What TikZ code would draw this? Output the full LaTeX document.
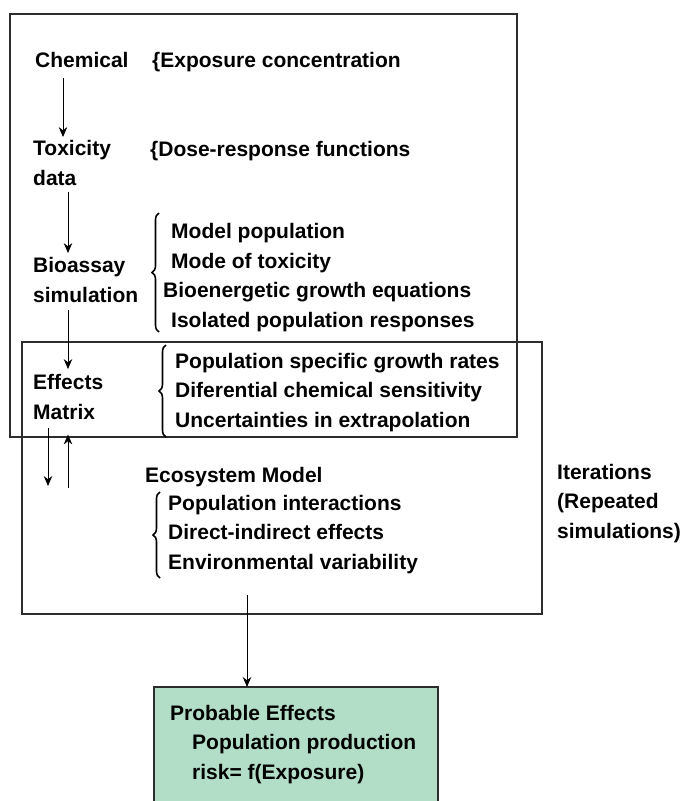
\documentclass[tikz,border=0pt]{standalone}
\usepackage{fontspec}
\setmainfont{Liberation Sans}
\usetikzlibrary{arrows.meta, positioning, calc, decorations.pathreplacing}
\definecolor{mintfill}{RGB}{178, 222, 200}
\definecolor{framegray}{RGB}{45, 45, 45}

\begin{document}
\begin{tikzpicture}[
  x=1pt, y=-1pt,
  txt/.style={anchor=base west, inner sep=0pt, align=left, font=\bfseries\fontsize{21}{29.5}\selectfont},
  frame/.style={rectangle, draw=framegray, line width=1.3pt, inner sep=0pt, outer sep=0pt, anchor=north west},
  arrow/.style={-{Stealth[length=10pt, width=8.5pt]}, line width=0.9pt},
  curly/.style={decorate, decoration={brace, amplitude=7pt}, line width=1.6pt}
]
  \useasboundingbox (0, 0) rectangle (683, 801);

  % frames
  \node[frame, minimum width=507, minimum height=423] (simbox) at (10, 14) {};
  \node[frame, minimum width=520, minimum height=272] (ecobox) at (22, 342) {};
  \node[frame, fill=mintfill, minimum width=284, minimum height=120] (probbox) at (154, 687) {};

  % left column (base = last line)
  \node[txt] (chem) at (35, 67) {Chemical};
  \node[txt] (tox) at (33, 185) {Toxicity\\data};
  \node[txt] (bio) at (33, 302) {Bioassay\\simulation};
  \node[txt] (eff) at (33, 419) {Effects\\Matrix};

  % descriptions
  \node[txt] (expo) at (152, 67) {\{Exposure concentration};
  \node[txt] (dose) at (150, 156) {\{Dose-response functions};
  \node[txt] (biolist) at (171, 327) {Model population\\Mode of toxicity\\\hspace*{-8pt}Bioenergetic growth equations\\Isolated population responses};
  \node[txt] (efflist) at (175, 427) {Population specific growth rates\\Diferential chemical sensitivity\\Uncertainties in extrapolation};
  \node[txt] (eco) at (145, 482) {Ecosystem Model};
  \node[txt] (ecolist) at (168, 569) {Population interactions\\Direct-indirect effects\\Environmental variability};
  \node[txt] (iter) at (557, 538) {Iterations\\(Repeated\\simulations)};
  \node[txt] (prob) at (170, 779) {Probable Effects\\\hspace*{22pt}Population production\\\hspace*{22pt}risk= f(Exposure)};

  \draw[curly] (159, 332) -- (159, 213);
  \draw[curly] (166, 437) -- (166, 345);
  \draw[curly] (160, 578) -- (160, 492);

  \coordinate (loopdown) at (48, 486);
  \coordinate (loopup) at (68, 488);
  \coordinate (ecoout) at (247, 595);

  \draw[arrow] ($(chem.base west)+(28, 11)$) -- ($(tox.north west)+(30, -3)$);
  \draw[arrow] ($(tox.south west)+(35, 7)$) -- ($(bio.north west)+(35, -4)$);
  \draw[arrow] ($(bio.south west)+(35, 8)$) -- ($(eff.north west)+(35, -5)$);
  \draw[arrow] ($(eff.south west)+(15, 9)$) -- (loopdown);
  \draw[arrow] (loopup) -- ($(eff.south west)+(35, 15)$);
  \draw[arrow] (ecoout) -- ($(probbox.north west)+(93, 0)$);
\end{tikzpicture}
\end{document}
